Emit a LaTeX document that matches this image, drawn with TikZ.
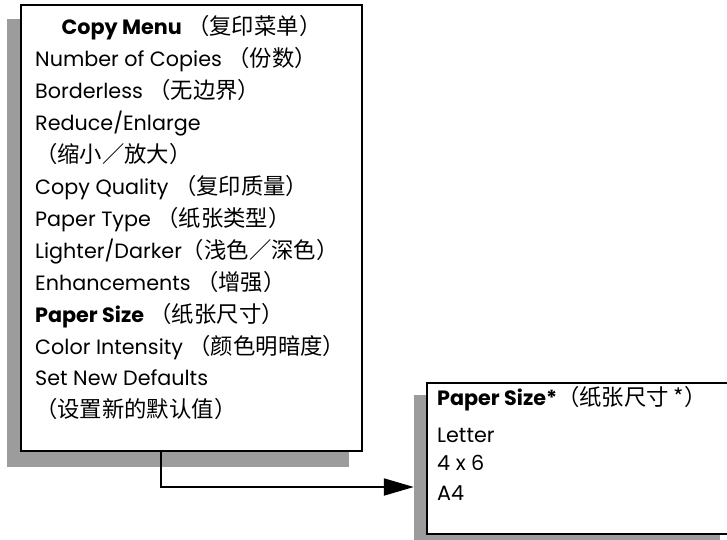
\documentclass[tikz,border=0pt]{standalone}
\usepackage{fontspec}
\setmainfont{Poppins}
\newfontfamily\cjk{Noto Sans CJK SC}[Scale=1.08]
\usetikzlibrary{arrows.meta}

\begin{document}
\begin{tikzpicture}[x=1pt,y=1pt,
    shade box/.style={fill=black!39,draw=none,inner sep=0pt},
    menu box/.style={draw,line width=2pt,fill=white,inner sep=0pt},
    entry/.style={anchor=base west,inner sep=0pt,font=\fontsize{20.7}{24}\selectfont}]
  \useasboundingbox (0,0) rectangle (727,539);
  \clip (0,0) rectangle (727,539);
  % copy menu
  \node[shade box,minimum width=342pt,minimum height=448pt] (menushadow) at (178,296) {};
  \node[menu box,minimum width=341pt,minimum height=446pt] (copymenu) at (191.5,311) {};
  \node[entry,anchor=base] (title) at (191.5,504) {\textbf{Copy Menu} {\cjk （复印菜单）}};
  \foreach \txt [count=\i] in {Number of Copies {\cjk （份数）},
      Borderless {\cjk （无边界）}, Reduce/Enlarge, {\cjk （缩小／放大）},
      Copy Quality {\cjk （复印质量）}, Paper Type {\cjk （纸张类型）},
      Lighter/Darker{\cjk （浅色／深色）}, Enhancements {\cjk （增强）},
      \textbf{Paper Size} {\cjk （纸张尺寸）}, Color Intensity {\cjk （颜色明暗度）},
      Set New Defaults, {\cjk （设置新的默认值）}}
    \node[entry] (item\i) at (35,504-31.9*\i) {\txt};
  % paper size submenu
  \node[shade box,minimum width=306pt,minimum height=151pt] (sizeshadow) at (567,69) {};
  \node[menu box,minimum width=313pt,minimum height=151pt] (papersize) at (583.5,80.5) {};
  \node[entry] (size0) at (437,134) {\textbf{Paper Size*}{\cjk （纸张尺寸 *）}};
  \node[entry] (size1) at (437,97) {Letter};
  \node[entry] (size2) at (437,69) {4 x 6};
  \node[entry] (size3) at (437,39) {A4};
  % connector
  \coordinate (bend) at (161,52);
  \draw[line width=2pt,-{Triangle[length=30pt,width=17pt]}]
    (copymenu.south -| bend) |- (sizeshadow.west |- bend);
\end{tikzpicture}
\end{document}
